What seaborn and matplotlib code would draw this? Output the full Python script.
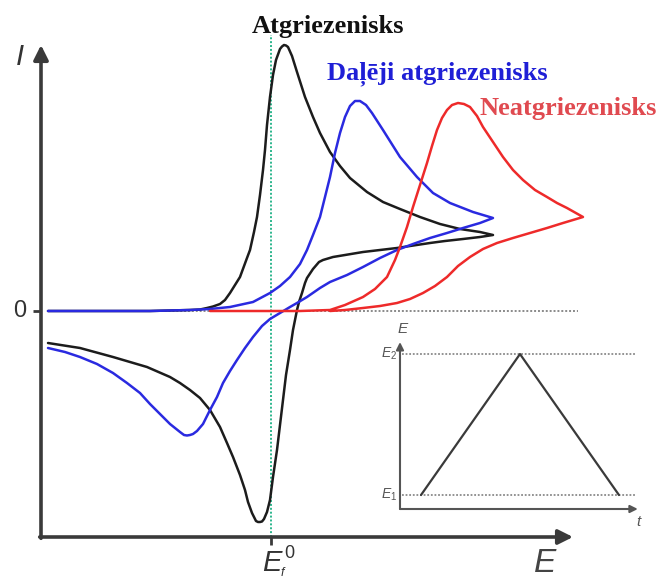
import matplotlib
matplotlib.use("Agg")
import matplotlib.pyplot as plt
import numpy as np
import pandas as pd
import seaborn as sns

sns.set_theme(style="white")
plt.rcParams["font.family"] = ["Liberation Sans", "DejaVu Sans"]
plt.rcParams["mathtext.fontset"] = "custom"
plt.rcParams["mathtext.rm"] = "Liberation Sans"
plt.rcParams["mathtext.it"] = "Liberation Sans:italic"

# ---- cyclic voltammograms: potential E (E0 = 0) and current I, one full sweep each ----
rev_E = [-223, -171, -121, -81, -71, -64, -58, -51, -46, -41, -36, -31, -24, -21, -17, -14, -11, -8,
         -6, -4, -1, 2, 5, 9, 11, 13, 15, 17, 21, 26, 34, 42, 49, 59, 69, 79, 96, 112, 129, 149,
         169, 189, 209, 222,
         209, 192, 174, 159, 139, 126, 109, 92, 74, 62, 52, 48, 42, 36, 34, 31, 28, 26, 22, 19,
         15, 12, 9, 6, 2, -1, -4, -7, -9, -11, -13, -15, -19, -23, -26, -31, -38, -44, -51, -61,
         -71, -81, -91, -101, -124, -158, -191, -223]
rev_I = [0, 0, 0, 1, 1.5, 3, 4.5, 7, 11, 18, 26, 34, 53, 61, 79, 94, 116, 141,
         161, 186, 214, 236, 251, 262, 264.5, 266, 265.5, 264, 255, 239, 214, 194, 178, 159, 145, 133, 119, 109, 102, 94,
         87, 82, 79, 76,
         74, 72, 70, 68, 65, 63, 61, 59, 56, 54, 51, 49, 42, 33, 28, 18, 9, 1, -19, -39,
         -64, -89, -114, -139, -166, -189, -201, -208, -210.5, -211, -211, -210, -202, -191, -179, -164, -146, -132, -116, -99,
         -87, -79, -72, -66, -56, -46, -37, -32]

quasi_E = [-223, -171, -121, -81, -61, -41, -18, -1, 9, 19, 29, 36, 42, 49, 54, 59, 64, 69, 74,
           79, 84, 89, 95, 101, 112, 129, 146, 162, 179, 202, 222,
           209, 192, 176, 159, 142, 126, 109, 92, 76, 59, 49, 36, 26, 19, 9, -1, -9, -18, -26,
           -34, -41, -48, -54, -61, -68, -74, -78, -81, -84, -87, -91, -96, -101, -108, -121, -131,
           -144, -158, -174, -191, -206, -223]
quasi_I = [0, 0, 0, 1, 2, 4, 9, 18, 25, 34, 47, 61, 76, 94, 114, 134, 158, 178, 194,
           205, 210, 210, 206, 198, 181, 154, 134, 118, 108, 99, 93,
           88, 83, 78, 73, 67, 61, 53, 44, 36, 29, 23, 14, 8, 4, -2, -8, -15, -26, -37,
           -49, -60, -72, -86, -99, -113, -120, -123, -124, -124.5, -124, -121, -117, -113, -106, -93, -82,
           -72, -62, -53, -46, -41, -37]

irrev_E = [-61, 29, 59, 74, 92, 104, 116, 124, 129, 136, 142, 149, 156, 161, 166, 171, 176, 181,
           187, 193, 199, 206, 212, 222, 232, 242, 252, 264, 276, 286, 296, 312,
           302, 292, 276, 259, 242, 226, 212, 199, 187, 176, 164, 152, 139, 126, 109, 92, 74, 59]
irrev_I = [0, 0, 1, 6, 14, 22, 34, 51, 64, 84, 104, 126, 148, 165, 181, 193, 201, 206,
           208, 207, 204, 195, 184, 169, 154, 141, 131, 121, 114, 108, 103, 94,
           91, 88, 83, 78, 73, 68, 62, 54, 45, 34, 25, 18, 12, 8, 5, 3, 1, 0]

kinds = ["Atgriezenisks", "Daļēji atgriezenisks", "Neatgriezenisks"]
line_colors = ["#1c1c1c", "#2a2ae0", "#ee2a2a"]
label_colors = ["#111111", "#1f1fd6", "#e04a50"]

# ---- triangular potential waveform for the inset ----
ramp_t = [0, 1, 2]
ramp_E = [0, 1, 0]
ramp_levels = ["E$_1$", "E$_2$"]

df = pd.concat([
    pd.DataFrame({"E": rev_E, "I": rev_I, "kind": kinds[0]}),
    pd.DataFrame({"E": quasi_E, "I": quasi_I, "kind": kinds[1]}),
    pd.DataFrame({"E": irrev_E, "I": irrev_I, "kind": kinds[2]}),
], ignore_index=True)

fig = plt.figure(figsize=(6.61, 5.80), dpi=100)
ax = fig.add_axes([0, 0, 1, 1])
ax.set_xlim(-271, 390)
ax.set_ylim(-269, 311)
ax.axis("off")

axis_col = "#3a3a3a"
E_axis_y = -226
I_axis_x = -230

# zero-current reference and formal potential marker
ax.plot([-223, 307], [0, 0], color="#8a8a8a", lw=1.4, ls=(0, (1, 1)), zorder=1)
ax.plot([0, 0], [E_axis_y, 276], color="#2bb58c", lw=1.4, ls=(0, (1, 1)), zorder=1)

sns.lineplot(data=df, x="E", y="I", hue="kind", hue_order=kinds, palette=line_colors,
             sort=False, estimator=None, legend=False, lw=1.8, ax=ax, zorder=3)
for ln in ax.get_lines():
    ln.set_solid_joinstyle("round")
    ln.set_solid_capstyle("round")
ax.set_xlabel("")
ax.set_ylabel("")

# axes with arrow heads
arrow = dict(arrowstyle="-|>", color=axis_col, lw=2.6, mutation_scale=22,
             shrinkA=0, shrinkB=0)
ax.annotate("", xy=(I_axis_x, 266), xytext=(I_axis_x, E_axis_y - 1.3), arrowprops=arrow)
ax.annotate("", xy=(302, E_axis_y), xytext=(I_axis_x - 1.3, E_axis_y), arrowprops=arrow)
ax.plot([-238, I_axis_x], [0, 0], color=axis_col, lw=2.0, solid_capstyle="butt")
ax.plot([0, 0], [E_axis_y, E_axis_y - 8], color=axis_col, lw=2.0, solid_capstyle="butt")

ax.text(-251, 254, "I", fontsize=21, style="italic", color="#333333", ha="center", va="center")
ax.text(-251, 0, "0", fontsize=17, color="#333333", ha="center", va="center")
ax.text(274, -253, "E", fontsize=24, style="italic", color="#444444", ha="center", va="center")

# formal potential label: E with subscript f and superscript 0
ax.text(1, -252, "E", fontsize=21, style="italic", color="#333333", ha="center", va="center")
ax.text(18, -243, "0", fontsize=13, color="#333333", ha="center", va="center")
ax.text(11, -262, "f", fontsize=9, style="italic", color="#333333", ha="center", va="center")

label_pos = [(57, 285), (166, 237), (297, 203)]
for name, col, (lx, ly) in zip(kinds, label_colors, label_pos):
    ax.text(lx, ly, name, fontsize=19, fontweight="bold", color=col,
            family="Liberation Serif", ha="center", va="center")

# ---- inset: applied potential vs time ----
W, H = 661.0, 580.0
ins = fig.add_axes([400 / W, (580 - 509) / H, 240 / W, 171 / H])
t0, e0 = -0.212, -0.099
ins.set_xlim(t0, t0 + 240 / 99)
ins.set_ylim(e0, e0 + 171 / 141)
ins.axis("off")
ins.patch.set_alpha(0)

for lvl in ramp_E[:2]:
    ins.plot([-0.19, 2.16], [lvl, lvl], color="#8a8a8a", lw=1.3, ls=(0, (1, 1)))
sns.lineplot(x=ramp_t, y=ramp_E, sort=False, estimator=None, color="#3a3a3a", lw=1.6, ax=ins)
ins.set_xlabel("")
ins.set_ylabel("")

small_arrow = dict(arrowstyle="-|>", color="#555555", lw=1.5, mutation_scale=11,
                   shrinkA=0, shrinkB=0)
ins.annotate("", xy=(t0, 1.085), xytext=(t0, e0), arrowprops=small_arrow)
ins.annotate("", xy=(2.19, e0), xytext=(t0, e0), arrowprops=small_arrow)

ins.text(-0.19, 1.175, "E", fontsize=11, style="italic", color="#555555", ha="center", va="center")
ins.text(2.2, -0.19, "t", fontsize=11, style="italic", color="#555555", ha="center", va="center")
for lvl, lab in zip([0, 1], ramp_levels):
    ins.text(-0.24, lvl, lab, fontsize=10, style="italic", color="#555555",
             ha="right", va="center")

fig.savefig("out.png", dpi=100)
